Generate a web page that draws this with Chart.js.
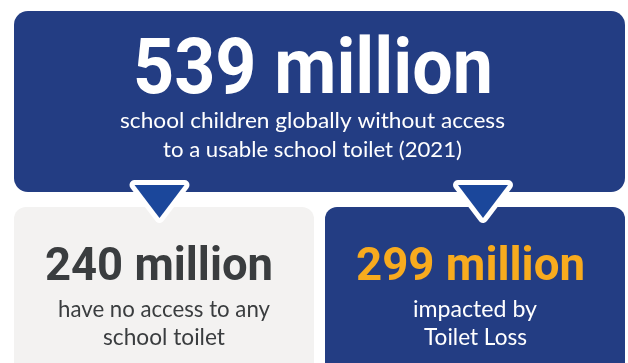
<!DOCTYPE html>
<html>
<head>
<meta charset="utf-8">
<script src="https://cdn.jsdelivr.net/npm/chart.js@4/dist/chart.umd.min.js"></script>
<style>
  html, body { margin: 0; padding: 0; background: #fff; }
  #wrap { width: 628px; height: 363px; }
</style>
</head>
<body>
<div id="wrap"><canvas id="infographic" width="628" height="363"></canvas></div>
<script>
// headline figures, millions of school children (2021)
const panelNames = ['Total', 'No access', 'Toilet Loss'];
const headlineValues = [539, 240, 299];
const headlineUnit = 'million';
const captionLines = [
    ['school children globally without access', 'to a usable school toilet (2021)'],
    ['have no access to any', 'school toilet'],
    ['impacted by', 'Toilet Loss']
];

const NAVY = '#233d83';
const ARROW = '#1b479b';
const GREY_BG = '#f3f2f1';
const DARK = '#3a3d3f';
const ORANGE = '#f8ab1e';

// layout for each panel: box, headline and caption geometry
const panels = [
    { box: [14, 11, 611, 181, 14], fill: NAVY, numColor: '#ffffff', txtColor: '#ffffff',
      head: { cx: 313, y: 93, w: 360, size: 78 },
      lines: [{ cx: 312.5, y: 128, w: 385 }, { cx: 312.5, y: 157, w: 299 }], lineSize: 22 },
    { box: [14, 207, 300, 180, 12], fill: GREY_BG, numColor: DARK, txtColor: DARK,
      head: { cx: 159, y: 280, w: 228, size: 46 },
      lines: [{ cx: 164, y: 317, w: 212 }, { cx: 164, y: 345, w: 122 }], lineSize: 23 },
    { box: [325, 207, 300, 180, 12], fill: NAVY, numColor: ORANGE, txtColor: '#ffffff',
      head: { cx: 470.5, y: 280, w: 229, size: 46 },
      lines: [{ cx: 475, y: 317, w: 124 }, { cx: 475.5, y: 345, w: 103 }], lineSize: 23 }
];
const arrows = [{ cx: 159.5, top: 185, half: 25, tip: 218 }, { cx: 483, top: 185, half: 25, tip: 218 }];

function fitText(ctx, text, cx, y, w, font, color) {
    ctx.save();
    ctx.font = font;
    ctx.fillStyle = color;
    ctx.textAlign = 'center';
    ctx.textBaseline = 'alphabetic';
    const natural = ctx.measureText(text).width;
    ctx.translate(cx, y);
    ctx.scale(w / natural, 1);
    ctx.fillText(text, 0, 0);
    ctx.restore();
}

const infographicPanels = {
    id: 'infographicPanels',
    beforeDraw(chart) {
        const { ctx } = chart;
        const values = chart.data.datasets[0].data;
        ctx.save();
        ctx.fillStyle = '#ffffff';
        ctx.fillRect(0, 0, chart.width, chart.height);

        panels.forEach((p, i) => {
            const [x, y, w, h, r] = p.box;
            ctx.beginPath();
            ctx.roundRect(x, y, w, h, r);
            ctx.fillStyle = p.fill;
            ctx.fill();

            fitText(ctx, values[i] + ' ' + headlineUnit, p.head.cx, p.head.y, p.head.w,
                'bold ' + p.head.size + 'px Roboto, sans-serif', p.numColor);
            captionLines[i].forEach((line, j) => {
                const l = p.lines[j];
                fitText(ctx, line, l.cx, l.y, l.w, p.lineSize + 'px Lato, sans-serif', p.txtColor);
            });
        });

        // pointer triangles with a white rim
        arrows.forEach(a => {
            ctx.beginPath();
            ctx.moveTo(a.cx - a.half, a.top);
            ctx.lineTo(a.cx + a.half, a.top);
            ctx.lineTo(a.cx, a.tip);
            ctx.closePath();
            ctx.lineJoin = 'round';
            ctx.lineWidth = 10;
            ctx.strokeStyle = '#ffffff';
            ctx.stroke();
            ctx.fillStyle = ARROW;
            ctx.fill();
        });
        ctx.restore();
    }
};

new Chart(document.getElementById('infographic'), {
    type: 'bar',
    data: {
        labels: panelNames,
        datasets: [{ label: 'School children (millions)', data: headlineValues, hidden: true }]
    },
    options: {
        responsive: false,
        animation: false,
        events: [],
        plugins: { legend: { display: false }, tooltip: { enabled: false } },
        scales: { x: { display: false }, y: { display: false } }
    },
    plugins: [infographicPanels]
});
</script>
</body>
</html>
